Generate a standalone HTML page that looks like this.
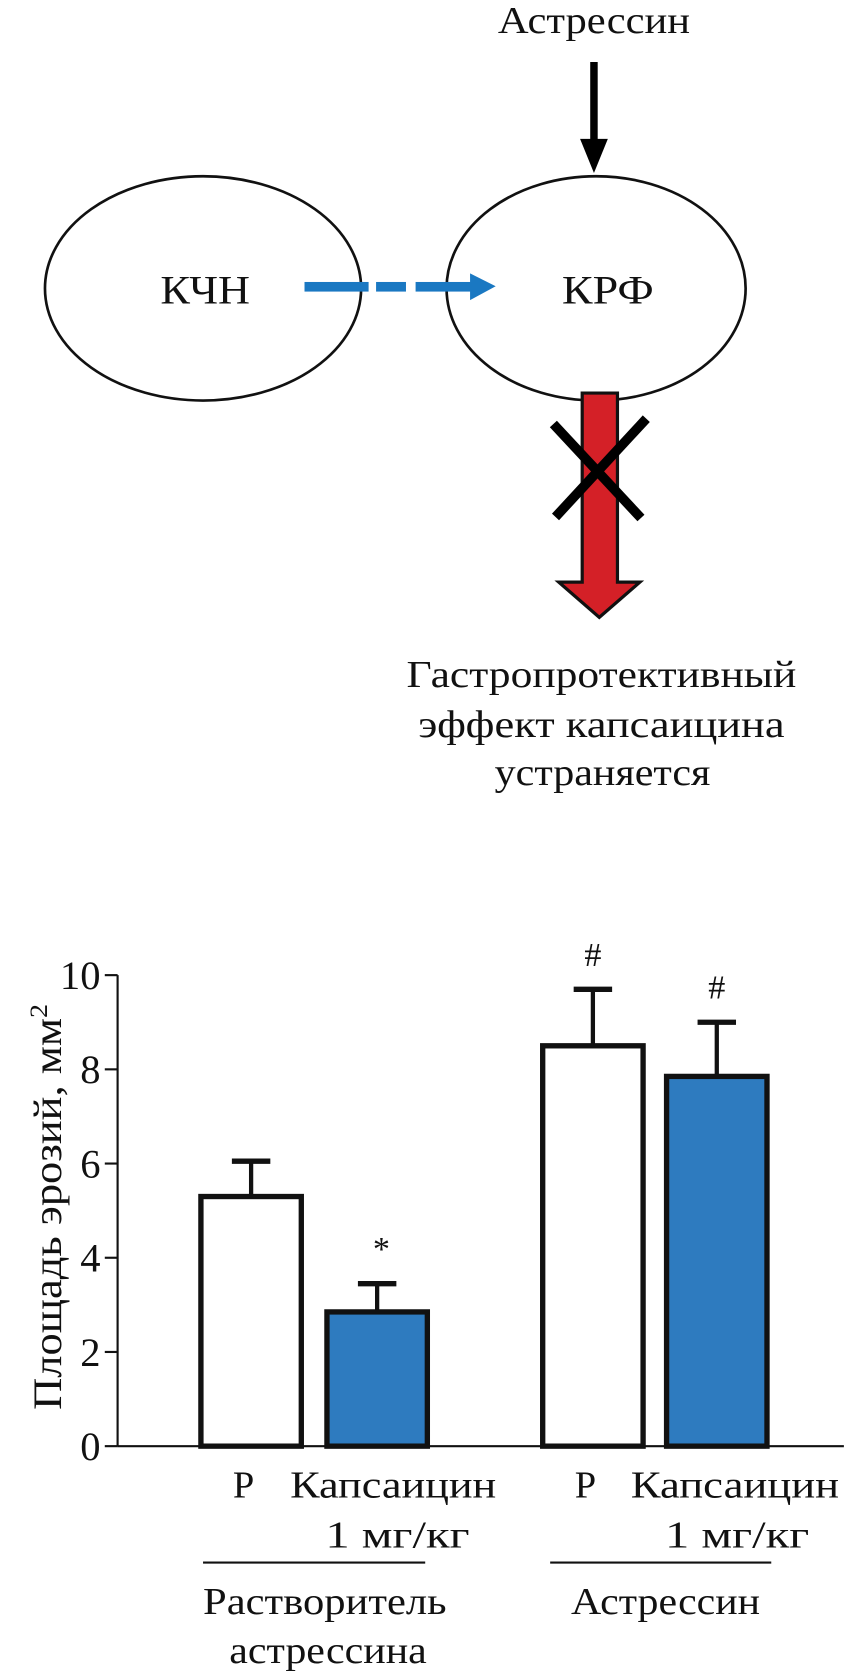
<!DOCTYPE html>
<html><head><meta charset="utf-8"><style>
html,body{margin:0;padding:0;background:#fff}
svg{display:block}
text{font-family:"Liberation Serif","DejaVu Serif",serif;fill:#111}
</style></head><body>
<svg width="844" height="1679" viewBox="0 0 790 1572">
<g>
<text x="556" y="31" font-size="36" text-anchor="middle" textLength="180" lengthAdjust="spacingAndGlyphs">Астрессин</text>
<g>
<line x1="556" y1="58" x2="556" y2="135" stroke="#000" stroke-width="7"/>
<polygon points="543,130 569,130 556,162" fill="#000"/>
</g>
<ellipse cx="190" cy="270" rx="148" ry="105" fill="#fff" stroke="#111" stroke-width="2.5"/>
<ellipse cx="558" cy="270" rx="140" ry="105" fill="#fff" stroke="#111" stroke-width="2.5"/>
<text x="192" y="284" font-size="38" text-anchor="middle" textLength="84" lengthAdjust="spacingAndGlyphs">КЧН</text>
<text x="569" y="284" font-size="38" text-anchor="middle" textLength="86" lengthAdjust="spacingAndGlyphs">КРФ</text>
<g fill="#1a78c2">
<rect x="285" y="264" width="60" height="9"/>
<rect x="352" y="264" width="28" height="9"/>
<rect x="389" y="264" width="55" height="9"/>
<polygon points="440,256 440,281 464,268"/>
</g>
<g>
<polygon points="545,368 578,368 578,545 599,545 561,578 523,545 545,545" fill="#d42027" stroke="#111" stroke-width="3"/>
</g>
<g stroke="#000" stroke-width="9">
<line x1="518" y1="397" x2="600" y2="485"/>
<line x1="605" y1="392" x2="520" y2="484"/>
</g>
<g font-size="36" text-anchor="middle" lengthAdjust="spacingAndGlyphs">
<text x="563" y="643" textLength="365" lengthAdjust="spacingAndGlyphs">Гастропротективный</text>
<text x="563" y="690" textLength="343" lengthAdjust="spacingAndGlyphs">эффект капсаицина</text>
<text x="564" y="735" textLength="202" lengthAdjust="spacingAndGlyphs">устраняется</text>
</g>
</g>
<g id="chart"></g>
<g font-size="36" text-anchor="middle">
<text x="228" y="1402">Р</text>
<text x="368" y="1402" textLength="193" lengthAdjust="spacingAndGlyphs">Капсаицин</text>
<text x="372" y="1449" textLength="135" lengthAdjust="spacingAndGlyphs">1 мг/кг</text>
<text x="548" y="1402">Р</text>
<text x="688" y="1402" textLength="195" lengthAdjust="spacingAndGlyphs">Капсаицин</text>
<text x="690" y="1449" textLength="135" lengthAdjust="spacingAndGlyphs">1 мг/кг</text>
<line x1="190" y1="1463" x2="398" y2="1463" stroke="#111" stroke-width="2"/>
<line x1="515" y1="1463" x2="722" y2="1463" stroke="#111" stroke-width="2"/>
<text x="304" y="1511" textLength="228" lengthAdjust="spacingAndGlyphs">Растворитель</text>
<text x="307" y="1557" textLength="185" lengthAdjust="spacingAndGlyphs">астрессина</text>
<text x="623" y="1511" textLength="177" lengthAdjust="spacingAndGlyphs">Астрессин</text>
</g>
</svg>
<script>
const categories = ["Р", "Капсаицин 1 мг/кг", "Р", "Капсаицин 1 мг/кг"];
const values = [5.3, 2.85, 8.5, 7.85];
const errors = [0.75, 0.6, 1.2, 1.15];
const fills = ["white", "blue", "white", "blue"];
const marks = ["", "*", "#", "#"];
const yTicks = [0, 2, 4, 6, 8, 10];

const NS = "http://www.w3.org/2000/svg";
const g = document.getElementById("chart");
const x0 = 110, yBase = 1354, yTop = 913, yMax = 10;
const y = v => yBase - (v / yMax) * (yBase - yTop);
const barX = [188, 306, 508, 624];
const bw = 94;
function mk(tag, attrs, parent) {
  const e = document.createElementNS(NS, tag);
  for (const k in attrs) e.setAttribute(k, attrs[k]);
  (parent || g).appendChild(e);
  return e;
}
let ax = mk("line", {x1: x0, y1: yTop, x2: x0, y2: yBase, stroke: "#111", "stroke-width": 2});


let xa = mk("line", {x1: x0, y1: yBase, x2: 790, y2: yBase, stroke: "#111", "stroke-width": 2});


yTicks.forEach(t => {
  const tk = mk("line", {x1: x0 - 12, y1: y(t), x2: x0, y2: y(t), stroke: "#111", "stroke-width": 2});
  
  
  const tl = mk("text", {x: 94, y: y(t) + 13, "font-size": 38, "text-anchor": "end"});
  tl.textContent = t;
  
  
});
const yt = mk("text", {x: 0, y: 0, "font-size": 38, "text-anchor": "middle", textLength: 380, lengthAdjust: "spacingAndGlyphs", transform: "translate(57,1130) rotate(-90)"});
yt.textContent = "Площадь эрозий, мм";
const sup = mk("tspan", {dy: -13, "font-size": 24}, yt);
sup.textContent = "2";


values.forEach((v, i) => {
  const cx = barX[i] + bw / 2;
  const top = y(v + errors[i]);
  const el = mk("line", {x1: cx, y1: y(v), x2: cx, y2: top, stroke: "#111", "stroke-width": 4});
  
  
  const cap = mk("line", {x1: cx - 18, y1: top, x2: cx + 18, y2: top, stroke: "#111", "stroke-width": 5});
  
  
  const r = mk("rect", {x: barX[i], y: y(v), width: bw, height: yBase - y(v), fill: fills[i] === "blue" ? "#2e7bbf" : "#fff", stroke: "#111", "stroke-width": 5});
  
  
  if (marks[i]) {
    const m = mk("text", {x: cx + (marks[i] === "*" ? 4 : 0), y: top - 22, "font-size": 32, "text-anchor": "middle"});
    m.textContent = marks[i];
    
    
  }
});
</script>
</body></html>
